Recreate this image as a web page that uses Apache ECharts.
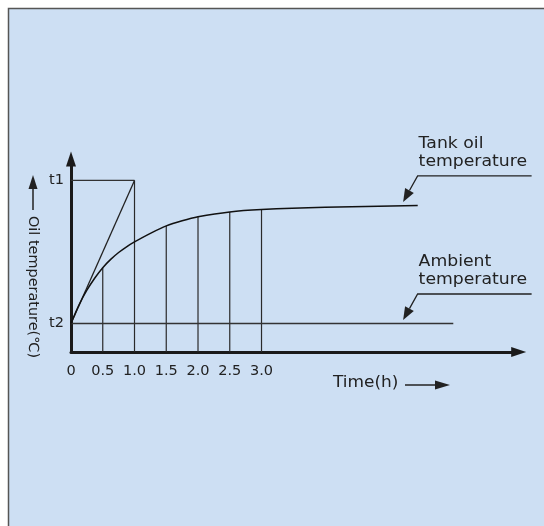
<!DOCTYPE html>
<html>
<head>
<meta charset="utf-8">
<script src="https://cdn.jsdelivr.net/npm/echarts@6/dist/echarts.min.js"></script>
<style>
  html, body { margin: 0; padding: 0; background: #ffffff; }
  #chart { width: 544px; height: 526px; }
</style>
</head>
<body>
<div id="chart"></div>
<script>
// Time axis ticks (hours) and their printed labels
const timeTicks = [0, 0.5, 1.0, 1.5, 2.0, 2.5, 3.0];
const timeLabels = ['0', '0.5', '1.0', '1.5', '2.0', '2.5', '3.0'];

// Temperature axis: only the two reference levels are labelled
const tempTicks = [1, 6];
const tempLabels = ['t2', 't1'];

// Tank oil temperature rise curve
const tankTime = [0, 0.125, 0.25, 0.375, 0.5, 0.625, 0.75, 0.875, 1.0, 1.25, 1.5, 1.75, 2.0, 2.5, 3.0, 4.0, 5.46];
const tankTemp = [1.0, 1.64, 2.16, 2.59, 2.95, 3.24, 3.48, 3.68, 3.85, 4.15, 4.41, 4.59, 4.73, 4.9, 4.98, 5.06, 5.12];

// Drop lines from the curve to the time axis
const dropTime = [0.5, 1.0, 1.5, 2.0, 2.5, 3.0];
const dropTop = [2.95, 6, 4.41, 4.73, 4.9, 4.98];

// Initial slope line from t2 up to t1 at 1 h, and the t1 level
const slopeTime = [0, 1.0];
const slopeTemp = [1, 6];
const levelTime = [0, 1.0];
const levelTemp = [6, 6];

// Ambient temperature stays at t2
const ambientTime = [0, 6.02];
const ambientTemp = [1, 1];

// Callouts: arrow tip position (time, temp) and two text lines
const calloutTime = [5.23, 5.23];
const calloutTemp = [5.25, 1.12];
const calloutLine1 = ['Tank oil', 'Ambient'];
const calloutLine2 = ['temperature', 'temperature'];

const FONT = '"DejaVu Sans", "Noto Sans", sans-serif';
const INK = '#222222';

const zip = (a, b) => a.map((v, i) => [v, b[i]]);

function labelFor(v, ticks, labels) {
  for (let i = 0; i < ticks.length; i++) {
    if (Math.abs(ticks[i] - v) < 1e-6) return labels[i];
  }
  return '';
}

const chart = echarts.init(document.getElementById('chart'), null, { renderer: 'canvas' });

const option = {
  animation: false,
  backgroundColor: '#ffffff',
  grid: { left: 71, top: 159, width: 447.7, height: 193, containLabel: false },
  xAxis: {
    type: 'value', min: 0, max: 7.05, interval: 0.5,
    axisLine: {
      show: true, onZero: false,
      symbol: ['none', 'triangle'], symbolSize: [10, 15],
      lineStyle: { color: '#1a1a1a', width: 3 }
    },
    axisTick: { show: false },
    splitLine: { show: false },
    axisLabel: {
      margin: 12, color: INK, fontFamily: FONT, fontSize: 14.5,
      showMaxLabel: false,
      formatter: v => labelFor(v, timeTicks, timeLabels)
    }
  },
  yAxis: {
    type: 'value', min: 0, max: 6.75, interval: 1,
    axisLine: {
      show: true, onZero: false,
      symbol: ['none', 'triangle'], symbolSize: [10, 15],
      lineStyle: { color: '#1a1a1a', width: 3 }
    },
    axisTick: { show: false },
    splitLine: { show: false },
    axisLabel: {
      margin: 7, color: INK, fontFamily: FONT, fontSize: 14.5,
      showMaxLabel: false,
      formatter: v => labelFor(v, tempTicks, tempLabels)
    }
  },
  graphic: [
    {
      type: 'rect', z: -10, silent: true,
      shape: { x: 8.5, y: 8.5, width: 545, height: 530 },
      style: { fill: '#cddff3', stroke: '#555555', lineWidth: 1.5 }
    },
    // vertical axis title with its upward arrow
    {
      type: 'text', x: 33, y: 287, rotation: -Math.PI / 2, scaleX: 1.03, silent: true,
      style: {
        text: 'Oil temperature(℃)', font: '14px ' + FONT, fill: INK,
        textAlign: 'center', textVerticalAlign: 'middle'
      }
    },
    {
      type: 'line', silent: true,
      shape: { x1: 33, y1: 210, x2: 33, y2: 188 },
      style: { stroke: INK, lineWidth: 1.5 }
    },
    {
      type: 'polygon', silent: true,
      shape: { points: [[33, 175], [28.5, 189], [37.5, 189]] },
      style: { fill: INK }
    },
    // horizontal axis title with its arrow
    {
      type: 'text', x: 333, y: 383, scaleX: 1.13, silent: true,
      style: {
        text: 'Time(h)', font: '15px ' + FONT, fill: INK,
        textAlign: 'left', textVerticalAlign: 'middle'
      }
    },
    {
      type: 'line', silent: true,
      shape: { x1: 405, y1: 385, x2: 437, y2: 385 },
      style: { stroke: INK, lineWidth: 1.5 }
    },
    {
      type: 'polygon', silent: true,
      shape: { points: [[450, 385], [435, 380.5], [435, 389.5]] },
      style: { fill: INK }
    }
  ],
  series: [
    {
      type: 'custom', name: 'drop lines', silent: true,
      data: zip(dropTime, dropTop),
      renderItem: (params, api) => {
        const a = api.coord([api.value(0), 0]);
        const b = api.coord([api.value(0), api.value(1)]);
        return {
          type: 'line',
          shape: { x1: a[0], y1: a[1], x2: b[0], y2: b[1] },
          style: { stroke: '#2a2a2a', lineWidth: 1.2 }
        };
      }
    },
    {
      type: 'line', name: 't1 level', silent: true, symbol: 'none',
      data: zip(levelTime, levelTemp),
      lineStyle: { color: '#333333', width: 1.2 }
    },
    {
      type: 'line', name: 'initial slope', silent: true, symbol: 'none',
      data: zip(slopeTime, slopeTemp),
      lineStyle: { color: INK, width: 1.3 }
    },
    {
      type: 'line', name: 'Ambient temperature', silent: true, symbol: 'none',
      data: zip(ambientTime, ambientTemp),
      lineStyle: { color: '#333333', width: 1.5 }
    },
    {
      type: 'line', name: 'Tank oil temperature', silent: true, symbol: 'none',
      smooth: 0.3,
      data: zip(tankTime, tankTemp),
      lineStyle: { color: '#111111', width: 1.5 }
    },
    {
      type: 'custom', name: 'callouts', silent: true, clip: false,
      data: calloutTime.map((t, i) => [t, calloutTemp[i], i]),
      renderItem: (params, api) => {
        const i = api.value(2);
        const tip = api.coord([api.value(0), api.value(1)]);
        const elbow = [tip[0] + 14.5, tip[1] - 26];
        const end = [elbow[0] + 114, elbow[1]];
        const dx = tip[0] - elbow[0], dy = tip[1] - elbow[1];
        const len = Math.sqrt(dx * dx + dy * dy);
        const ux = dx / len, uy = dy / len;
        const head = 13, half = 5;
        const base = [tip[0] - ux * head, tip[1] - uy * head];
        const textAt = (str, dyText) => ({
          type: 'text',
          x: elbow[0] + 1, y: elbow[1] + dyText, scaleX: 1.15,
          style: {
            text: str, x: 0, y: 0,
            font: '15px ' + FONT, fill: INK,
            textAlign: 'left', textVerticalAlign: 'middle'
          }
        });
        return {
          type: 'group',
          children: [
            {
              type: 'polyline',
              shape: { points: [end, elbow, base] },
              style: { stroke: INK, lineWidth: 1.3, fill: null }
            },
            {
              type: 'polygon',
              shape: {
                points: [
                  tip,
                  [base[0] - uy * half, base[1] + ux * half],
                  [base[0] + uy * half, base[1] - ux * half]
                ]
              },
              style: { fill: INK }
            },
            textAt(calloutLine1[i], -32),
            textAt(calloutLine2[i], -14)
          ]
        };
      }
    }
  ]
};

chart.setOption(option);
</script>
</body>
</html>
